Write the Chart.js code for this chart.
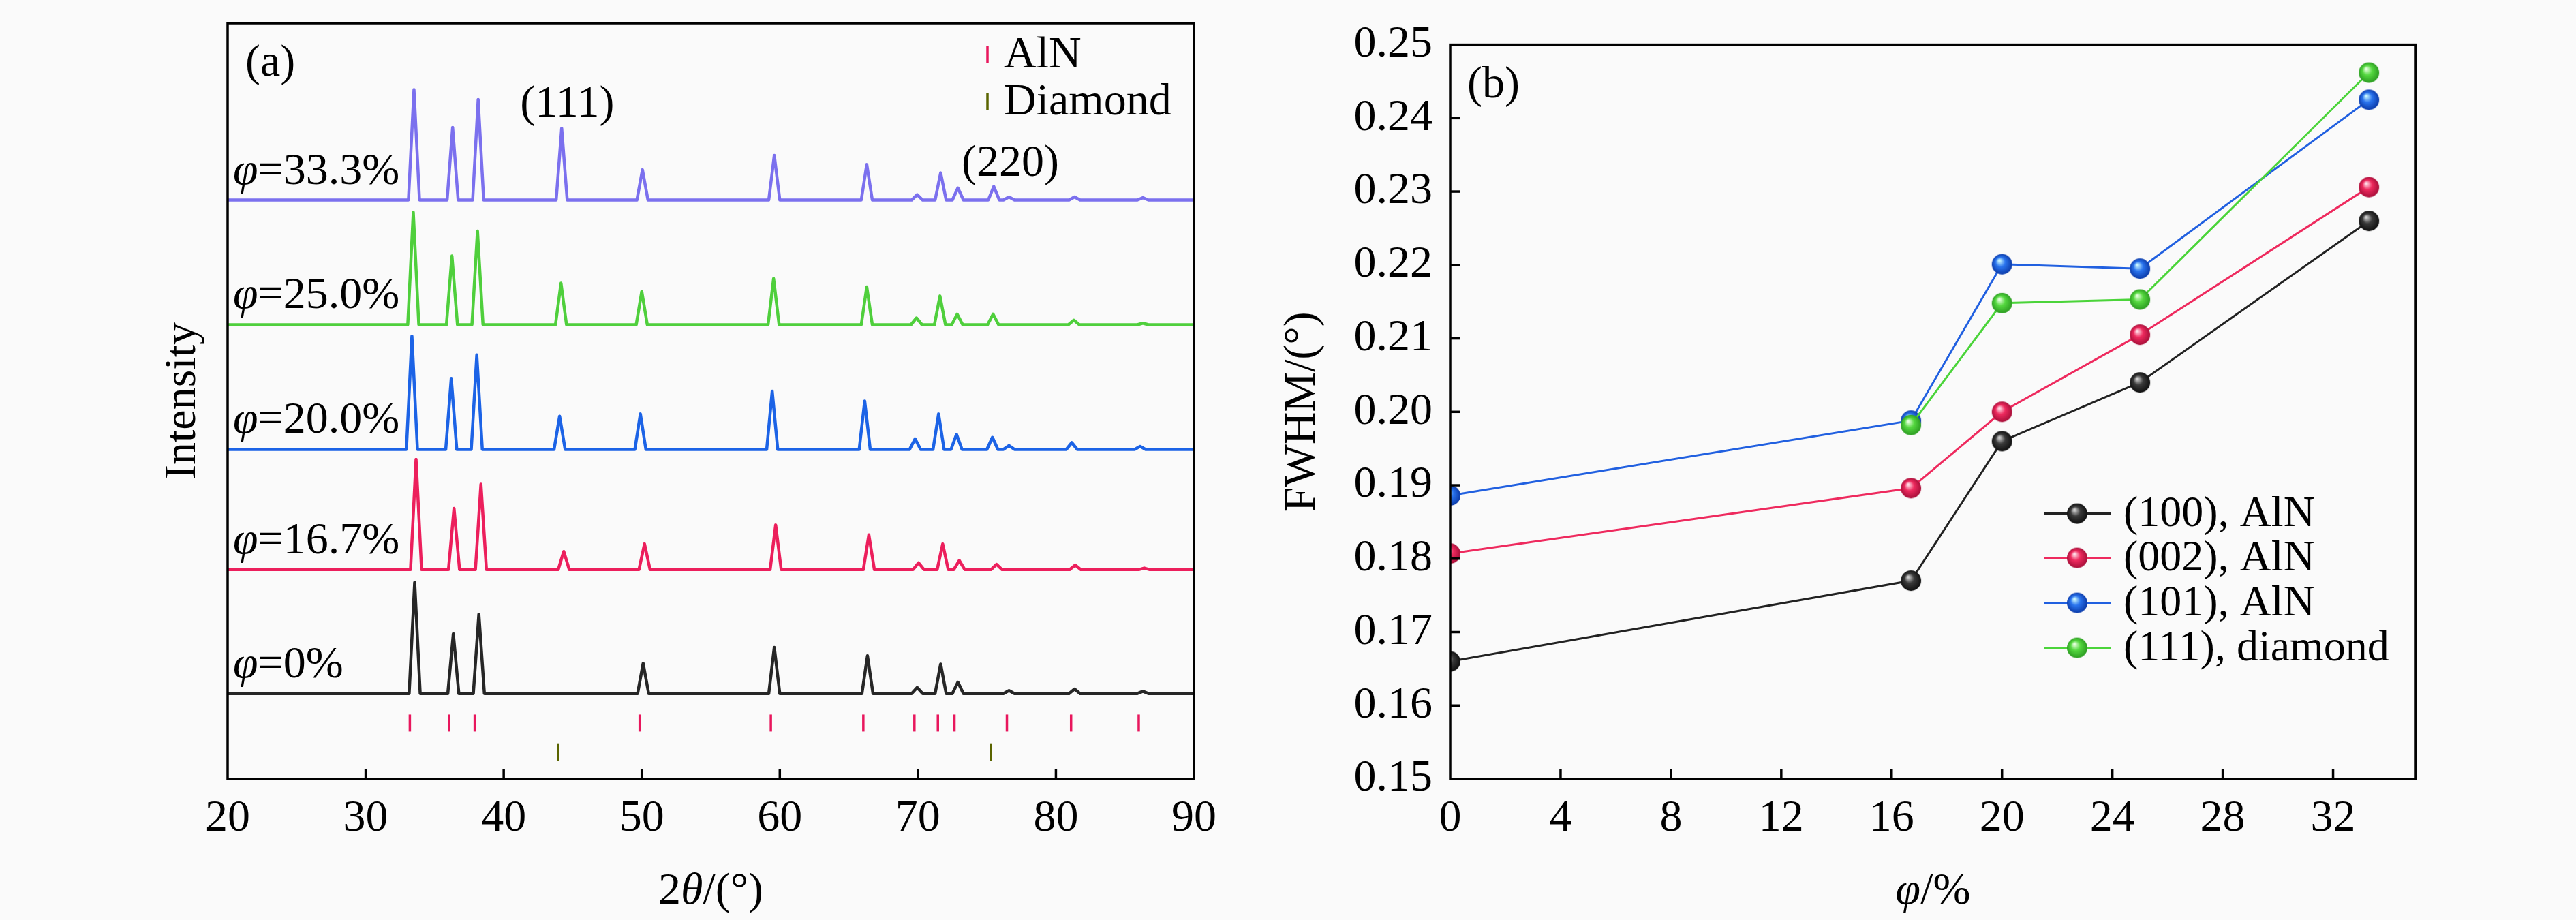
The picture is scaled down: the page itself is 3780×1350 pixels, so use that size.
<!DOCTYPE html>
<html><head><meta charset="utf-8">
<script src="https://cdn.jsdelivr.net/npm/chart.js@4.4.1/dist/chart.umd.min.js"></script>
<style>
html,body{margin:0;padding:0;background:#fafafa;}
#wrap{position:relative;width:3780px;height:1350px;overflow:hidden;}
#c1{position:absolute;left:0;top:0;}
#c2{position:absolute;left:1850px;top:0;}
</style></head><body>
<div id="wrap">
<canvas id="c1" width="1850" height="1350" style="width:1850px;height:1350px"></canvas>
<canvas id="c2" width="1930" height="1350" style="width:1930px;height:1350px"></canvas>
</div>
<script>
// ---------------- DATA: panel (a) XRD ----------------
const xrdNames = ['0%', '16.7%', '20.0%', '25.0%', '33.3%'];
const xrdBaselines = [11.3, 27.7, 43.6, 60.1, 76.6];
const peaks0 = [[33.55,26.0],[36.35,19.2],[38.2,21.8],[50.1,15.3],[59.6,17.4],[66.35,16.3],[69.95,12.1],[71.65,15.2],[72.9,12.8],[76.6,11.7],[81.35,11.9],[86.3,11.6]];
const peaks167 = [[33.65,42.3],[36.4,35.8],[38.35,39.0],[44.35,30.1],[50.2,31.1],[59.7,33.6],[66.45,32.3],[70.05,28.6],[71.8,31.1],[73.0,28.9],[75.7,28.4],[81.4,28.3],[86.4,27.9]];
const peaks200 = [[33.35,58.6],[36.2,53.0],[38.05,56.1],[44.05,48.0],[49.9,48.3],[59.45,51.3],[66.15,50.0],[69.8,45.0],[71.5,48.3],[72.8,45.6],[75.4,45.2],[76.6,44.1],[81.15,44.5],[86.1,44.0]];
const peaks250 = [[33.45,75.0],[36.25,69.2],[38.1,72.5],[44.15,65.6],[50.0,64.5],[59.55,66.2],[66.3,65.1],[69.9,61.0],[71.6,63.9],[72.85,61.5],[75.45,61.5],[81.3,60.7],[86.3,60.3]];
const peaks333 = [[33.5,91.2],[36.3,86.2],[38.15,89.9],[44.2,86.1],[50.05,80.6],[59.6,82.5],[66.3,81.3],[69.95,77.3],[71.65,80.2],[72.9,78.2],[75.5,78.4],[76.6,77.0],[81.35,77.0],[86.3,76.9]];
const xrdPeaks = [peaks0, peaks167, peaks200, peaks250, peaks333];
const alnRefPositions = [33.2, 36.05, 37.9, 49.85, 59.35, 66.05, 69.75, 71.45, 72.65, 76.45, 81.1, 86.0];
const diamondRefPositions = [43.95, 75.3];
const alnRefLevel = 7.4;
const diamondRefLevel = 3.5;
const xrdTicks = [20, 30, 40, 50, 60, 70, 80, 90];

// ---------------- DATA: panel (b) FWHM ----------------
const phiValues = [0, 16.7, 20, 25, 33.3];
const fwhm100 = [0.166, 0.177, 0.196, 0.204, 0.226];
const fwhm002 = [0.1807, 0.1896, 0.2000, 0.2105, 0.2306];
const fwhm101 = [0.1886, 0.1988, 0.2201, 0.2195, 0.2425];
const fwhm111 = [null, 0.1982, 0.2148, 0.2153, 0.2462];
const fwhmLabels = ['(100), AlN', '(002), AlN', '(101), AlN', '(111), diamond'];
const phiTicks = [0, 4, 8, 12, 16, 20, 24, 28, 32];
const fwhmTicks = [0.15, 0.16, 0.17, 0.18, 0.19, 0.20, 0.21, 0.22, 0.23, 0.24, 0.25];

// ---------------- STYLE ----------------
const FONT = 'Liberation Serif';
const FS = 66;
const xrdColors = ['#262626', '#ec1f5c', '#1c63e6', '#4fcf3c', '#7b70ee'];
const alnColor = '#e8175d';
const diamondColor = '#5a6400';
const fwhmColors = ['#222222', '#ee2a5e', '#2160e0', '#4bd43a'];
const sphereShades = [
  ['#d0d0d0', '#3a3a3a', '#0e0e0e'],
  ['#ffdce6', '#ee2a5e', '#a50e38'],
  ['#c8f6ff', '#2a74ee', '#0a38a6'],
  ['#e4ffdc', '#55d840', '#2a9a20']
];
const PEAK_HALF = 0.4;

Chart.defaults.font.family = FONT;
Chart.defaults.color = '#000';

function sphere(sh) {
  const c = document.createElement('canvas');
  c.width = 32; c.height = 32;
  const g = c.getContext('2d');
  const gr = g.createRadialGradient(12, 10.5, 1, 16, 16, 15.5);
  gr.addColorStop(0, sh[0]);
  gr.addColorStop(0.42, sh[1]);
  gr.addColorStop(1, sh[2]);
  g.fillStyle = gr;
  g.beginPath(); g.arc(16, 16, 15, 0, Math.PI * 2); g.fill();
  return c;
}
const sphereImgs = sphereShades.map(sphere);

function tracePoints(base, peaks) {
  const pts = [{x: 20, y: base}];
  peaks.forEach(([p, h]) => {
    pts.push({x: p - PEAK_HALF, y: base}, {x: p, y: h}, {x: p + PEAK_HALF, y: base});
  });
  pts.push({x: 90, y: base});
  return pts;
}

function inwardTicks(ctx, scale, values, area, horizontal, len) {
  values.forEach(v => {
    const p = scale.getPixelForValue(v);
    ctx.beginPath();
    if (horizontal) { ctx.moveTo(p, area.bottom); ctx.lineTo(p, area.bottom - len); }
    else { ctx.moveTo(area.left, p); ctx.lineTo(area.left + len, p); }
    ctx.stroke();
  });
}

function mixedWidth(ctx, parts) {
  let w = 0;
  parts.forEach(([t, italic]) => {
    ctx.font = (italic ? 'italic ' : '') + FS + 'px "' + FONT + '"';
    w += ctx.measureText(t).width;
  });
  return w;
}
function mixedText(ctx, parts, x, y) {
  let cx = x;
  parts.forEach(([t, italic]) => {
    ctx.font = (italic ? 'italic ' : '') + FS + 'px "' + FONT + '"';
    ctx.fillText(t, cx, y);
    cx += ctx.measureText(t).width;
  });
}
function xTitle(ctx, parts, a) {
  ctx.textAlign = 'left'; ctx.textBaseline = 'middle';
  const w = mixedWidth(ctx, parts);
  mixedText(ctx, parts, (a.left + a.right) / 2 - w / 2, 1309);
}

// ---------------- Panel (a) ----------------
const leftDecor = {
  id: 'leftDecor',
  afterDraw(chart) {
    const {ctx, chartArea: a, scales: {x, y}} = chart;
    ctx.save();
    ctx.strokeStyle = '#000'; ctx.lineWidth = 3.5;
    inwardTicks(ctx, x, xrdTicks.slice(1, -1), a, true, 15);
    ctx.strokeRect(a.left, a.top, a.width, a.height);
    ctx.fillStyle = '#000';
    ctx.textBaseline = 'alphabetic'; ctx.textAlign = 'left';
    xrdNames.forEach((n, i) => {
      mixedText(ctx, [['φ', true], ['=' + n, false]], a.left + 8, y.getPixelForValue(xrdBaselines[i]) - 24);
    });
    xTitle(ctx, [['2', false], ['θ', true], ['/(°)', false]], a);
    ctx.font = FS + 'px "' + FONT + '"';
    ctx.textBaseline = 'middle'; ctx.textAlign = 'center';
    ctx.fillText('(111)', x.getPixelForValue(44.6), y.getPixelForValue(89.2));
    ctx.fillText('(220)', x.getPixelForValue(76.7), y.getPixelForValue(81.4));
    ctx.textAlign = 'left';
    ctx.fillText('(a)', a.left + 26, a.top + 60);
    // legend
    const lx = a.right - 303;
    [[alnColor, 'AlN', a.top + 46], [diamondColor, 'Diamond', a.top + 115]].forEach(([c, t, cy]) => {
      ctx.strokeStyle = c; ctx.lineWidth = 3.5;
      ctx.beginPath(); ctx.moveTo(lx, cy - 12); ctx.lineTo(lx, cy + 12); ctx.stroke();
      ctx.fillStyle = '#000';
      ctx.fillText(t, lx + 24, cy + 2);
    });
    ctx.restore();
  }
};

const leftDatasets = xrdPeaks.map((pk, i) => ({
  label: 'φ=' + xrdNames[i],
  data: tracePoints(xrdBaselines[i], pk),
  showLine: true, borderColor: xrdColors[i], borderWidth: 4.5,
  pointRadius: 0, tension: 0, fill: false, borderJoinStyle: 'round'
}));
leftDatasets.push({
  label: 'AlN', data: alnRefPositions.map(v => ({x: v, y: alnRefLevel})),
  showLine: false, pointStyle: 'line', rotation: 90, pointRadius: 12.5,
  borderColor: alnColor, backgroundColor: alnColor, pointBorderWidth: 3.5
});
leftDatasets.push({
  label: 'Diamond', data: diamondRefPositions.map(v => ({x: v, y: diamondRefLevel})),
  showLine: false, pointStyle: 'line', rotation: 90, pointRadius: 12.5,
  borderColor: diamondColor, backgroundColor: diamondColor, pointBorderWidth: 3.5
});

new Chart(document.getElementById('c1'), {
  type: 'scatter',
  data: {datasets: leftDatasets},
  options: {
    responsive: false, animation: false, devicePixelRatio: 1,
    layout: {padding: {left: 0, top: 34, right: 98, bottom: 0}},
    plugins: {legend: {display: false}, tooltip: {enabled: false}},
    scales: {
      x: {
        type: 'linear', min: 20, max: 90,
        afterBuildTicks: s => { s.ticks = xrdTicks.map(v => ({value: v})); },
        afterFit: s => { s.height = 207; },
        grid: {display: false, drawTicks: false}, border: {display: false},
        ticks: {font: {size: FS, lineHeight: 1.2}, padding: 19, color: '#000', maxRotation: 0},
        title: {display: false, text: '2θ/(°)'}
      },
      y: {
        type: 'linear', min: 0, max: 100,
        afterFit: s => { s.width = 334; },
        grid: {display: false, drawTicks: false}, border: {display: false},
        ticks: {display: false},
        title: {display: true, text: 'Intensity', font: {size: FS, lineHeight: 1.2}, color: '#000', padding: {top: 229, bottom: 0}}
      }
    }
  },
  plugins: [leftDecor]
});

// ---------------- Panel (b) ----------------
const fwhmSeries = [fwhm100, fwhm002, fwhm101, fwhm111];
const rightDecor = {
  id: 'rightDecor',
  afterDraw(chart) {
    const {ctx, chartArea: a, scales: {x, y}} = chart;
    ctx.save();
    ctx.strokeStyle = '#000'; ctx.lineWidth = 3.5;
    inwardTicks(ctx, x, phiTicks.slice(1), a, true, 15);
    inwardTicks(ctx, y, fwhmTicks.slice(1, -1), a, false, 15);
    ctx.strokeRect(a.left, a.top, a.width, a.height);
    ctx.fillStyle = '#000';
    xTitle(ctx, [['φ', true], ['/%', false]], a);
    ctx.font = FS + 'px "' + FONT + '"';
    ctx.textBaseline = 'middle'; ctx.textAlign = 'left';
    ctx.fillText('(b)', a.left + 25, a.top + 60);
    // legend
    const rows = [688, 753, 819, 885];
    chart.data.datasets.slice().sort((p, q) => p.legendIndex - q.legendIndex).forEach((ds, i) => {
      const cy = a.top + rows[i];
      ctx.strokeStyle = ds.borderColor; ctx.lineWidth = 3;
      ctx.beginPath(); ctx.moveTo(a.left + 871, cy); ctx.lineTo(a.left + 970, cy); ctx.stroke();
      ctx.drawImage(ds.pointStyle, a.left + 920 - 16, cy - 16);
      ctx.fillStyle = '#000';
      ctx.font = '64px "' + FONT + '"';
      ctx.fillText(ds.label, a.left + 988, cy + 2);
    });
    ctx.restore();
  }
};

const rightDatasets = fwhmSeries.map((s, i) => ({
  label: fwhmLabels[i],
  legendIndex: i,
  order: 3 - i,
  data: phiValues.map((p, j) => ({x: p, y: s[j]})).filter(d => d.y !== null),
  showLine: true, borderColor: fwhmColors[i], borderWidth: 3, tension: 0,
  pointStyle: sphereImgs[i], pointRadius: 15, pointHoverRadius: 15,
  backgroundColor: fwhmColors[i]
}));

new Chart(document.getElementById('c2'), {
  type: 'scatter',
  data: {datasets: rightDatasets},
  options: {
    responsive: false, animation: false, devicePixelRatio: 1,
    layout: {padding: {left: 0, top: 34, right: 235, bottom: 0}},
    plugins: {legend: {display: false}, tooltip: {enabled: false}},
    scales: {
      x: {
        type: 'linear', min: 0, max: 35,
        afterBuildTicks: s => { s.ticks = phiTicks.map(v => ({value: v})); },
        afterFit: s => { s.height = 207; },
        grid: {display: false, drawTicks: false}, border: {display: false},
        ticks: {font: {size: FS, lineHeight: 1.2}, padding: 19, color: '#000', maxRotation: 0},
        title: {display: false, text: 'φ/%'}
      },
      y: {
        type: 'linear', min: 0.15, max: 0.25,
        afterBuildTicks: s => { s.ticks = fwhmTicks.map(v => ({value: v})); },
        afterFit: s => { s.width = 278; },
        grid: {display: false, drawTicks: false}, border: {display: false},
        ticks: {font: {size: FS, lineHeight: 1.2}, padding: 26, color: '#000', callback: v => Number(v).toFixed(2)},
        title: {display: true, text: 'FWHM/(°)', font: {size: FS, lineHeight: 1.2}, color: '#000', padding: {top: 22, bottom: 0}}
      }
    }
  },
  plugins: [rightDecor]
});
</script>
</body></html>
